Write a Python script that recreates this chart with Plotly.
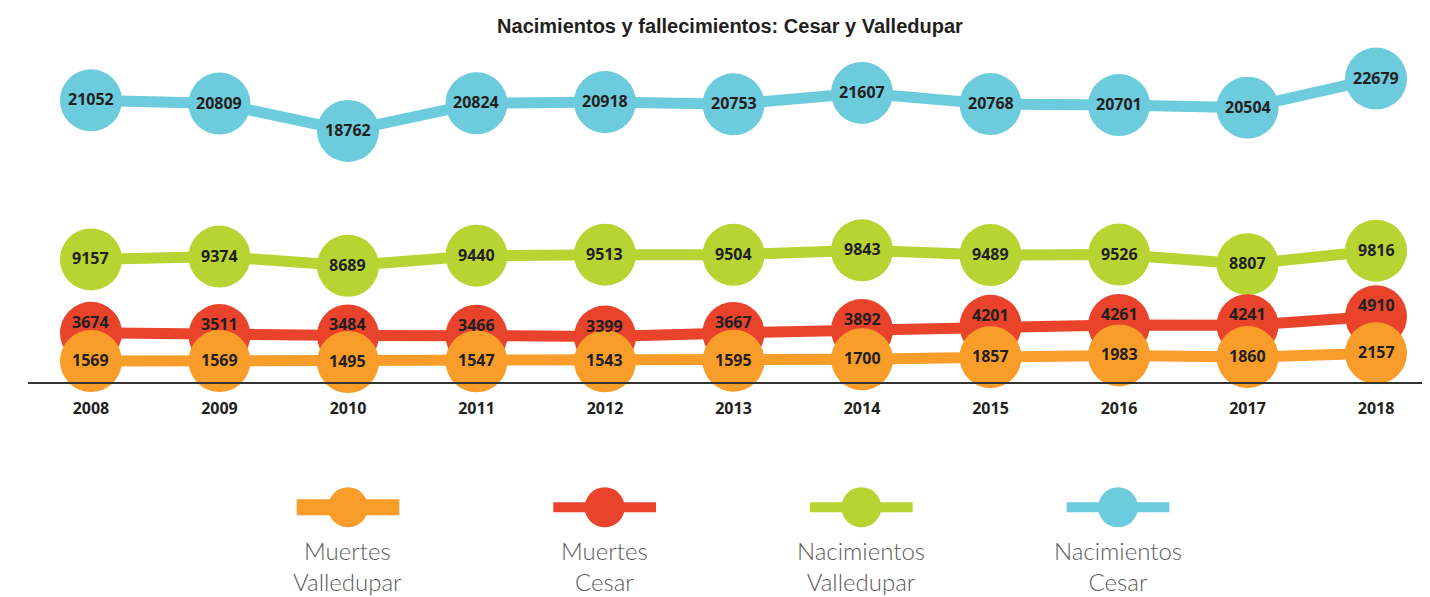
import plotly.graph_objects as go

years = [2008, 2009, 2010, 2011, 2012, 2013, 2014, 2015, 2016, 2017, 2018]
year_labels = [str(y) for y in years]
nac_cesar = [21052, 20809, 18762, 20824, 20918, 20753, 21607, 20768, 20701, 20504, 22679]
nac_valledupar = [9157, 9374, 8689, 9440, 9513, 9504, 9843, 9489, 9526, 8807, 9816]
muertes_cesar = [3674, 3511, 3484, 3466, 3399, 3667, 3892, 4201, 4261, 4241, 4910]
muertes_valledupar = [1569, 1569, 1495, 1547, 1543, 1595, 1700, 1857, 1983, 1860, 2157]

series_names = ["Nacimientos<br>Cesar", "Nacimientos<br>Valledupar", "Muertes<br>Cesar", "Muertes<br>Valledupar"]
series_values = [nac_cesar, nac_valledupar, muertes_cesar, muertes_valledupar]
colors = ["#6CCBDD", "#B8D432", "#E9442B", "#F89D2A"]
# vertical nudge (px) of value labels inside circles, per series
label_shift = [1, 1, 11, 1]

# legend order (left to right)
legend_order = [3, 2, 1, 0]
legend_line_widths = {3: 16, 2: 10, 1: 10, 0: 10}

value_font = dict(family="Open Sans", size=16, color="#231F20", weight="bold")

fig = go.Figure()

for name, vals, col in zip(series_names, series_values, colors):
    fig.add_trace(go.Scatter(
        x=years, y=vals, mode="lines+markers",
        line=dict(color=col, width=11),
        marker=dict(color=col, size=62, line=dict(width=0)),
        cliponaxis=False, showlegend=False, hoverinfo="skip",
        xaxis="x", yaxis="y",
    ))

for vals, shift in zip(series_values, label_shift):
    for yr, v in zip(years, vals):
        fig.add_annotation(
            x=yr, y=v, xref="x", yref="y", text=str(v), showarrow=False,
            xanchor="center", yanchor="middle", yshift=shift, font=value_font,
        )

# custom legend drawn in its own axes
for pos, idx in enumerate(legend_order):
    col = colors[idx]
    fig.add_trace(go.Scatter(
        x=[pos - 0.2, pos + 0.2], y=[0.521, 0.521], mode="lines",
        line=dict(color=col, width=legend_line_widths[idx]),
        showlegend=False, hoverinfo="skip", xaxis="x2", yaxis="y2", cliponaxis=False,
    ))
    fig.add_trace(go.Scatter(
        x=[pos], y=[0.521], mode="markers",
        marker=dict(color=col, size=40, line=dict(width=0)),
        showlegend=False, hoverinfo="skip", xaxis="x2", yaxis="y2", cliponaxis=False,
    ))
    fig.add_annotation(
        x=pos, y=0.16, xref="x2", yref="y2", text=series_names[idx],
        showarrow=False, xanchor="center", yanchor="middle", align="center",
        font=dict(family="Lato", size=24, color="#5a5a5a", weight=300),
    )

fig.update_layout(
    width=1422, height=589,
    margin=dict(l=20, r=0, t=42, b=5),
    paper_bgcolor="white", plot_bgcolor="white",
    title=dict(
        text="Nacimientos y fallecimientos: Cesar y Valledupar",
        x=0.5077, xanchor="center", y=0.9694, yanchor="middle",
        font=dict(family="Liberation Sans, Arial", size=20, color="#231F20", weight="bold"),
    ),
    xaxis=dict(
        range=[2007.51, 2018.42], domain=[0, 1], anchor="y",
        tickmode="array", tickvals=years, ticktext=year_labels,
        showgrid=False, zeroline=False, showline=True, linecolor="#333333", linewidth=2,
        ticks="outside", ticklen=11, tickcolor="rgba(0,0,0,0)",
        tickfont=dict(family="Open Sans", size=16, color="#231F20", weight="bold"),
    ),
    yaxis=dict(
        range=[0, 24813], domain=[0.38745, 1], anchor="x",
        visible=False, showgrid=False, zeroline=False,
    ),
    xaxis2=dict(range=[-1.2467, 4.2155], domain=[0, 1], anchor="y2", visible=False),
    yaxis2=dict(range=[0, 1], domain=[0, 0.3], anchor="x2", visible=False),
)

fig.write_html("out.html")
